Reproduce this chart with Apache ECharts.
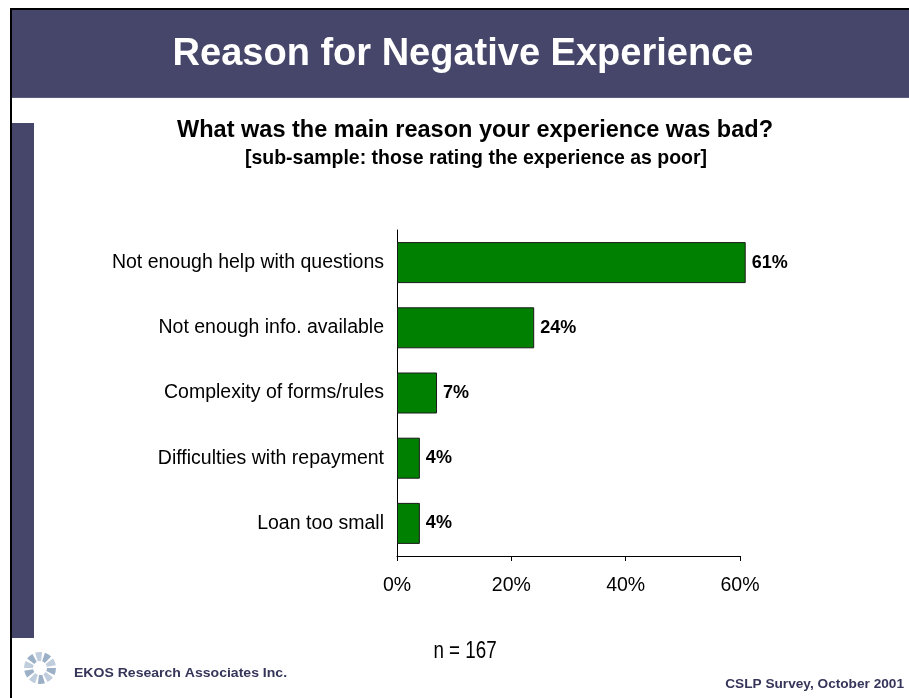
<!DOCTYPE html>
<html>
<head>
<meta charset="utf-8">
<script src="https://cdn.jsdelivr.net/npm/echarts@6/dist/echarts.min.js"></script>
<style>
  html, body { margin: 0; padding: 0; background: #ffffff; }
  #chart { width: 909px; height: 698px; }
</style>
</head>
<body>
<div id="chart"></div>
<script>
// Survey results: main reason for a bad experience (share of respondents, %)
const categories = [
  'Not enough help with questions',
  'Not enough info. available',
  'Complexity of forms/rules',
  'Difficulties with repayment',
  'Loan too small'
];
const values = [61, 24, 7, 4, 4];
const tickValues = [0, 20, 40, 60];

const titleText = 'Reason for Negative Experience';
const questionText = 'What was the main reason your experience was bad?';
const subSampleText = '[sub-sample: those rating the experience as poor]';
const sampleSizeText = 'n = 167';
const firmText = 'EKOS Research Associates Inc.';
const surveyText = 'CSLP Survey, October 2001';

const SANS = '"Liberation Sans", Arial, sans-serif';
const SLATE = '#46466a';

// centred text, optionally condensed horizontally around its anchor
function label(text, x, y, font, opts) {
  opts = opts || {};
  return {
    type: 'text', x: x, y: y, scaleX: opts.scaleX || 1,
    style: {
      x: 0, y: 0, text: text, font: font,
      fill: opts.fill || '#000000',
      textAlign: opts.align || 'center',
      textVerticalAlign: 'middle'
    },
    silent: true
  };
}

// Small swirl emblem next to the firm name
const logoPetals = [];
for (let i = 0; i < 10; i++) {
  const a = (i / 10) * Math.PI * 2;
  logoPetals.push({
    type: 'sector',
    shape: { cx: 40, cy: 668, r0: 7, r: 16, startAngle: a, endAngle: a + 0.45 },
    style: { fill: i % 2 ? '#b4c4d6' : '#8aa2bc', opacity: 0.85 },
    silent: true
  });
}

const chart = echarts.init(document.getElementById('chart'), null, { renderer: 'canvas' });

chart.setOption({
  animation: false,
  backgroundColor: '#ffffff',
  graphic: [
    // frame lines
    { type: 'rect', shape: { x: 10, y: 8, width: 899, height: 2 }, style: { fill: '#000000' }, silent: true },
    { type: 'rect', shape: { x: 10, y: 8, width: 2, height: 690 }, style: { fill: '#000000' }, silent: true },
    // header band
    { type: 'rect', shape: { x: 12, y: 10, width: 897, height: 88 }, style: { fill: SLATE }, silent: true },
    { type: 'rect', shape: { x: 12, y: 97, width: 897, height: 1 }, style: { fill: '#5c5c80' }, silent: true },
    // left accent bar
    { type: 'rect', shape: { x: 12, y: 123, width: 22, height: 515 }, style: { fill: SLATE }, silent: true },
    label(titleText, 463, 55, 'bold 38px ' + SANS, { fill: '#ffffff' }),
    label(questionText, 475, 130, 'bold 24.5px ' + SANS, { scaleX: 0.96 }),
    label(subSampleText, 476, 158, 'bold 20.5px ' + SANS, { scaleX: 0.95 }),
    label(sampleSizeText, 465, 652, '23.5px ' + SANS, { scaleX: 0.8 }),
    label(firmText, 74, 673, 'bold 13px ' + SANS, { align: 'left', fill: '#35355a', scaleX: 1.08 }),
    label(surveyText, 904, 684, 'bold 13px ' + SANS, { align: 'right', fill: '#35355a', scaleX: 1.05 })
  ].concat(logoPetals),
  grid: { left: 397, right: 169, top: 230, height: 326, containLabel: false },
  xAxis: {
    type: 'value',
    min: 0,
    max: 60,
    interval: 20,
    axisLine: { show: true, lineStyle: { color: '#000000', width: 1 } },
    axisTick: { show: true, length: 5, inside: false, lineStyle: { color: '#000000' } },
    splitLine: { show: false },
    axisLabel: {
      margin: 20,
      color: '#000000',
      fontFamily: SANS,
      fontSize: 19.5,
      formatter: function (v) { return tickValues.indexOf(v) >= 0 ? v + '%' : ''; }
    }
  },
  yAxis: {
    type: 'category',
    inverse: true,
    data: categories,
    axisLine: { show: true, lineStyle: { color: '#000000', width: 1 } },
    axisTick: { show: false },
    axisLabel: { margin: 13, color: '#000000', fontFamily: SANS, fontSize: 19.5 }
  },
  series: [{
    type: 'bar',
    data: values,
    barWidth: 41,
    clip: false,
    itemStyle: { color: '#008000', borderColor: '#1a1a1a', borderWidth: 1 },
    label: {
      show: true,
      position: 'right',
      distance: 6,
      formatter: '{c}%',
      color: '#000000',
      fontFamily: SANS,
      fontWeight: 'bold',
      fontSize: 18
    }
  }]
});
</script>
</body>
</html>
